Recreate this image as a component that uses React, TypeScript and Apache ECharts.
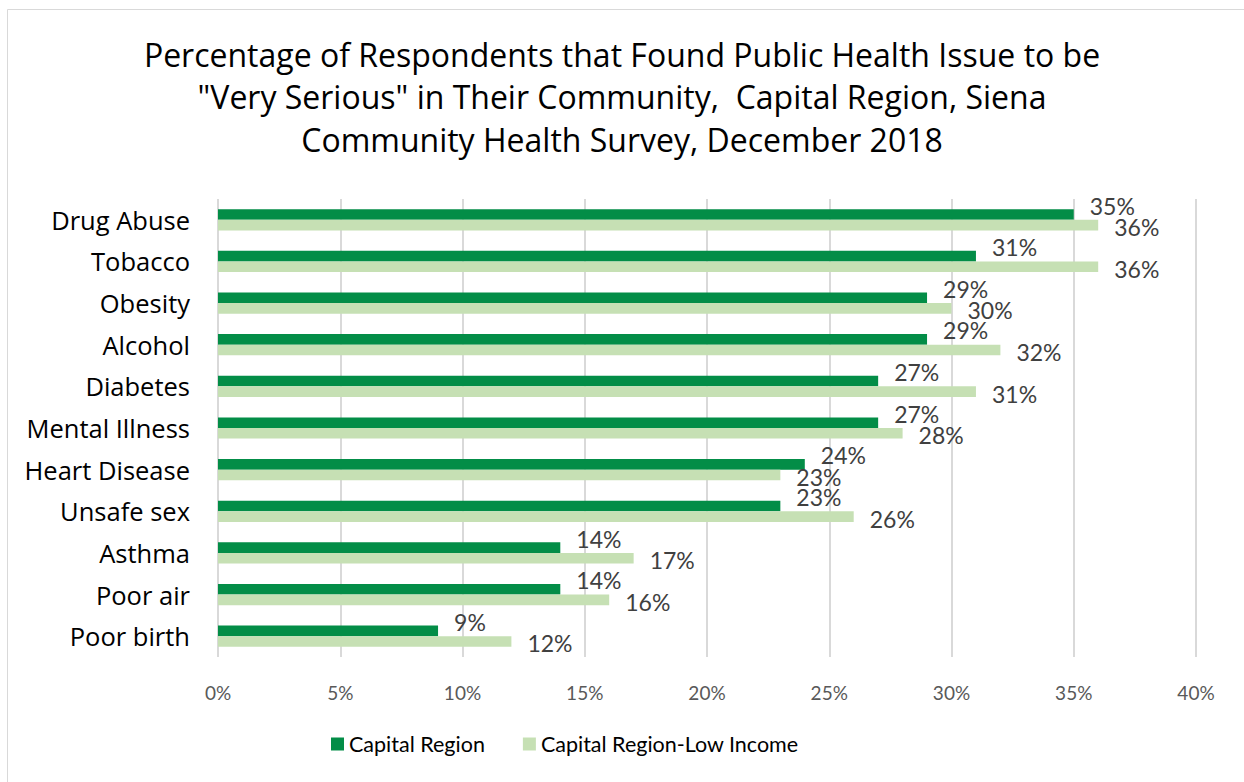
import React, { useEffect, useRef } from "react";
import * as echarts from "echarts";

const categories = [
  "Drug Abuse",
  "Tobacco",
  "Obesity",
  "Alcohol",
  "Diabetes",
  "Mental Illness",
  "Heart Disease",
  "Unsafe sex",
  "Asthma",
  "Poor air",
  "Poor birth",
];
const capitalRegion = [35, 31, 29, 29, 27, 27, 24, 23, 14, 14, 9];
const capitalRegionLowIncome = [36, 36, 30, 32, 31, 28, 23, 26, 17, 16, 12];
const seriesNames = ["Capital Region", "Capital Region-Low Income"];
const titleLines = [
  "Percentage of Respondents that Found Public Health Issue to be",
  "\"Very Serious\" in Their Community,  Capital Region, Siena",
  "Community Health Survey, December 2018",
];

const FONT = "Lato, 'Open Sans', sans-serif";
const FONT2 = "'Open Sans', Lato, sans-serif";

export default function App() {
  const ref = useRef<HTMLDivElement>(null);
  useEffect(() => {
    if (!ref.current) return;
    const chart = echarts.init(ref.current, undefined, { renderer: "svg" });
    chart.setOption({
      animation: false,
      backgroundColor: "#ffffff",
      textStyle: { fontFamily: FONT },
      title: {
        text: titleLines.join("\n"),
        left: "center",
        top: 28,
        textStyle: {
          fontFamily: FONT2,
          fontSize: 32,
          fontWeight: "normal",
          color: "#000000",
          lineHeight: 42.5,
        },
      },
      graphic: [
        {
          type: "rect",
          shape: { x: 7.5, y: 9.5, width: 1260, height: 800 },
          style: { fill: "none", stroke: "#d9d9d9", lineWidth: 1 },
          silent: true,
        },
      ],
      legend: {
        data: seriesNames,
        bottom: 27,
        left: 331,
        padding: 0,
        itemWidth: 13,
        itemHeight: 13,
        itemGap: 38,
        icon: "rect",
        textStyle: { fontFamily: FONT, fontSize: 21.5, color: "#000000" },
      },
      grid: { left: 218, right: 48, top: 199, bottom: 125, containLabel: false },
      xAxis: {
        type: "value",
        min: 0,
        max: 40,
        interval: 5,
        axisLabel: {
          formatter: "{value}%",
          fontFamily: FONT,
          fontSize: 19,
          color: "#595959",
          margin: 26,
        },
        axisLine: { show: false },
        axisTick: { show: false },
        splitLine: { show: true, lineStyle: { color: "#d9d9d9", width: 2 } },
      },
      yAxis: {
        type: "category",
        data: categories,
        inverse: true,
        axisLine: { show: false },
        axisTick: { show: false },
        axisLabel: { fontFamily: FONT2, fontSize: 25.5, color: "#000000", margin: 28 },
      },
      series: [
        {
          name: seriesNames[0],
          type: "bar",
          data: capitalRegion,
          barCategoryGap: "49%",
          barGap: "0%",
          itemStyle: { color: "#038d47" },
          label: {
            show: true,
            position: "right",
            distance: 16,
            offset: [0, -9],
            formatter: "{c}%",
            fontFamily: FONT,
            fontSize: 23,
            color: "#404040",
          },
        },
        {
          name: seriesNames[1],
          type: "bar",
          data: capitalRegionLowIncome,
          barCategoryGap: "49%",
          barGap: "0%",
          itemStyle: { color: "#c6e0b4" },
          label: {
            show: true,
            position: "right",
            distance: 16,
            offset: [0, 2],
            formatter: "{c}%",
            fontFamily: FONT,
            fontSize: 23,
            color: "#404040",
          },
        },
      ],
    });
    return () => chart.dispose();
  }, []);
  return (
    <div
      ref={ref}
      style={{ position: "fixed", left: 0, top: 0, width: 1244, height: 782 }}
    />
  );
}
